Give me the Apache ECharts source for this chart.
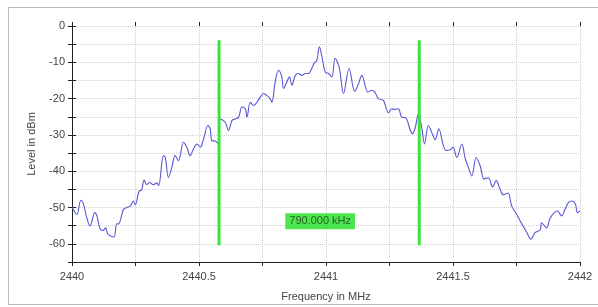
<!DOCTYPE html>
<html>
<head>
<meta charset="utf-8">
<script src="https://cdn.jsdelivr.net/npm/echarts@6/dist/echarts.min.js"></script>
<style>
html,body{margin:0;padding:0;background:#fff;}
#chart{width:598px;height:307px;}
</style>
</head>
<body>
<div id="chart"></div>
<script>
// Frequency (MHz) samples of the trace
var freqMHz = [2440.001,2440.019,2440.035,2440.045,2440.058,2440.071,2440.090,2440.098,2440.111,2440.123,
2440.132,2440.141,2440.157,2440.166,2440.176,2440.183,2440.203,2440.216,2440.229,2440.242,
2440.249,2440.264,2440.274,2440.284,2440.294,2440.307,2440.320,2440.334,2440.341,2440.360,
2440.367,2440.380,2440.393,2440.406,2440.419,2440.439,2440.452,2440.465,2440.478,2440.492,
2440.505,2440.518,2440.535,2440.544,2440.551,2440.564,2440.577,2440.584,2440.603,2440.616,
2440.630,2440.643,2440.656,2440.669,2440.682,2440.689,2440.702,2440.715,2440.728,2440.741,
2440.754,2440.767,2440.780,2440.787,2440.800,2440.813,2440.826,2440.833,2440.846,2440.856,
2440.866,2440.879,2440.892,2440.905,2440.918,2440.931,2440.944,2440.953,2440.964,2440.974,
2440.984,2440.997,2441.010,2441.023,2441.036,2441.052,2441.069,2441.091,2441.113,2441.127,
2441.141,2441.165,2441.180,2441.193,2441.206,2441.226,2441.246,2441.259,2441.272,2441.285,
2441.298,2441.314,2441.331,2441.340,2441.351,2441.364,2441.377,2441.388,2441.403,2441.418,
2441.430,2441.444,2441.462,2441.473,2441.489,2441.500,2441.515,2441.535,2441.548,2441.561,
2441.574,2441.591,2441.607,2441.622,2441.639,2441.656,2441.670,2441.685,2441.698,2441.717,
2441.731,2441.750,2441.771,2441.790,2441.807,2441.823,2441.843,2441.849,2441.868,2441.882,
2441.896,2441.910,2441.928,2441.941,2441.955,2441.969,2441.982,2441.990,2442.000];
// Level (dBm) of the trace
var levelDBm = [-50.0,-51.9,-48.0,-49.0,-52.8,-55.1,-51.4,-52.3,-56.0,-56.3,
-55.6,-57.3,-58.0,-58.1,-54.5,-54.5,-50.5,-50.0,-49.6,-48.2,
-49.3,-45.5,-45.2,-42.4,-43.7,-43.1,-43.7,-43.2,-44.0,-35.7,
-36.2,-41.7,-39.0,-35.7,-37.1,-32.0,-33.4,-35.7,-33.9,-32.5,
-33.4,-31.1,-27.4,-28.3,-31.6,-31.7,-32.5,-25.6,-26.5,-28.8,
-26.0,-25.6,-25.1,-22.3,-22.8,-25.1,-21.0,-21.9,-21.0,-19.6,
-18.6,-19.1,-20.0,-21.0,-15.4,-12.2,-14.0,-17.2,-15.4,-14.0,
-16.3,-13.6,-13.1,-13.6,-13.1,-13.1,-11.7,-10.3,-9.4,-5.7,
-8.5,-12.7,-13.1,-14.0,-8.9,-11.4,-18.6,-11.7,-18.0,-16.1,
-13.6,-18.2,-17.7,-18.3,-20.0,-20.5,-23.9,-22.8,-23.0,-22.8,
-25.1,-25.3,-28.5,-29.7,-28.1,-24.1,-28.0,-32.5,-27.4,-29.6,
-31.3,-28.3,-32.9,-34.3,-34.1,-33.4,-36.2,-32.5,-36.5,-39.0,
-41.3,-36.2,-38.5,-42.1,-41.8,-44.3,-42.6,-44.9,-46.5,-46.0,
-49.6,-51.8,-54.5,-56.8,-58.7,-56.9,-56.2,-54.2,-55.6,-53.0,
-51.6,-50.9,-52.3,-50.5,-48.6,-48.2,-49.1,-51.4,-50.9];
// Bandwidth marker lines (MHz) and their vertical extent (dBm)
var markerFreqs = [2440.579, 2441.367];
var markerRange = [-3.9, -60.4];
var bandwidthLabel = '790.000 kHz';
var labelPos = [2440.977, -53.8];
// Axis settings
var xMin = 2440, xMax = 2442, xStep = 0.25;
var yMin = -65, yMax = 0, yStep = 5;
var xName = 'Frequency in MHz', yName = 'Level in dBm';

var trace = freqMHz.map(function(f, i){ return [f, levelDBm[i]]; });
var FONT = 'Liberation Sans, Arial, sans-serif';
var TXT = '#444';

var series = [{
  type: 'line', data: trace, showSymbol: false, smooth: 0.35,
  lineStyle: {color: '#5858d4', width: 1.1}, z: 3, silent: true
}];
markerFreqs.forEach(function(f){
  series.push({
    type: 'line', data: [[f, markerRange[0]], [f, markerRange[1]]], showSymbol: false,
    lineStyle: {color: '#3de03d', width: 3}, z: 4, silent: true
  });
});
series.push({
  type: 'scatter', data: [labelPos], symbolSize: 0, z: 5, silent: true,
  label: {show: true, position: 'inside', formatter: bandwidthLabel,
    backgroundColor: '#22e022', color: '#1a3a1a', fontFamily: FONT, fontSize: 11,
    padding: [3, 4, 2, 4]}
});

var chart = echarts.init(document.getElementById('chart'), null, {renderer: 'canvas'});
chart.setOption({
  animation: false,
  backgroundColor: '#fff',
  graphic: [{type: 'rect', shape: {x: 8.5, y: 7.5, width: 620, height: 297},
    style: {fill: null, stroke: '#b9b9b9', lineWidth: 1}, z: -1}],
  grid: {left: 72, right: 18, top: 26, bottom: 45},
  xAxis: [{
    type: 'value', min: xMin, max: xMax, interval: xStep,
    name: xName, nameLocation: 'middle', nameGap: 29,
    nameTextStyle: {color: TXT, fontFamily: FONT, fontSize: 11},
    axisLine: {show: true, onZero: false, lineStyle: {color: '#222'}},
    axisTick: {show: true, length: 4, lineStyle: {color: '#222'}},
    axisLabel: {color: TXT, fontFamily: FONT, fontSize: 11, margin: 9,
      formatter: function(v){ return (Math.abs(v*2 - Math.round(v*2)) < 1e-6) ? String(v) : ''; }},
    splitLine: {show: true, lineStyle: {color: '#d0d0d0', type: 'dotted'}}
  }, {
    type: 'value', min: xMin, max: xMax, interval: xStep, position: 'bottom',
    axisLine: {show: false}, axisLabel: {show: false}, splitLine: {show: false},
    axisTick: {show: true, inside: true, length: 4, lineStyle: {color: '#222'}}
  }],
  yAxis: [{
    type: 'value', min: yMin, max: yMax, interval: yStep,
    name: yName, nameLocation: 'middle', nameGap: 35,
    nameTextStyle: {color: TXT, fontFamily: FONT, fontSize: 11},
    axisLine: {show: true, onZero: false, lineStyle: {color: '#222'}},
    axisTick: {show: true, length: 4, lineStyle: {color: '#222'}},
    axisLabel: {color: TXT, fontFamily: FONT, fontSize: 11, margin: 7,
      formatter: function(v){ return (v % 10 === 0) ? String(v) : ''; }},
    splitLine: {show: true, lineStyle: {color: '#d0d0d0', type: 'dotted'}}
  }, {
    type: 'value', min: yMin, max: yMax, interval: yStep, position: 'left',
    axisLine: {show: false}, axisLabel: {show: false}, splitLine: {show: false},
    axisTick: {show: true, inside: true, length: 4, lineStyle: {color: '#222'}}
  }],
  series: series
});
</script>
</body>
</html>
